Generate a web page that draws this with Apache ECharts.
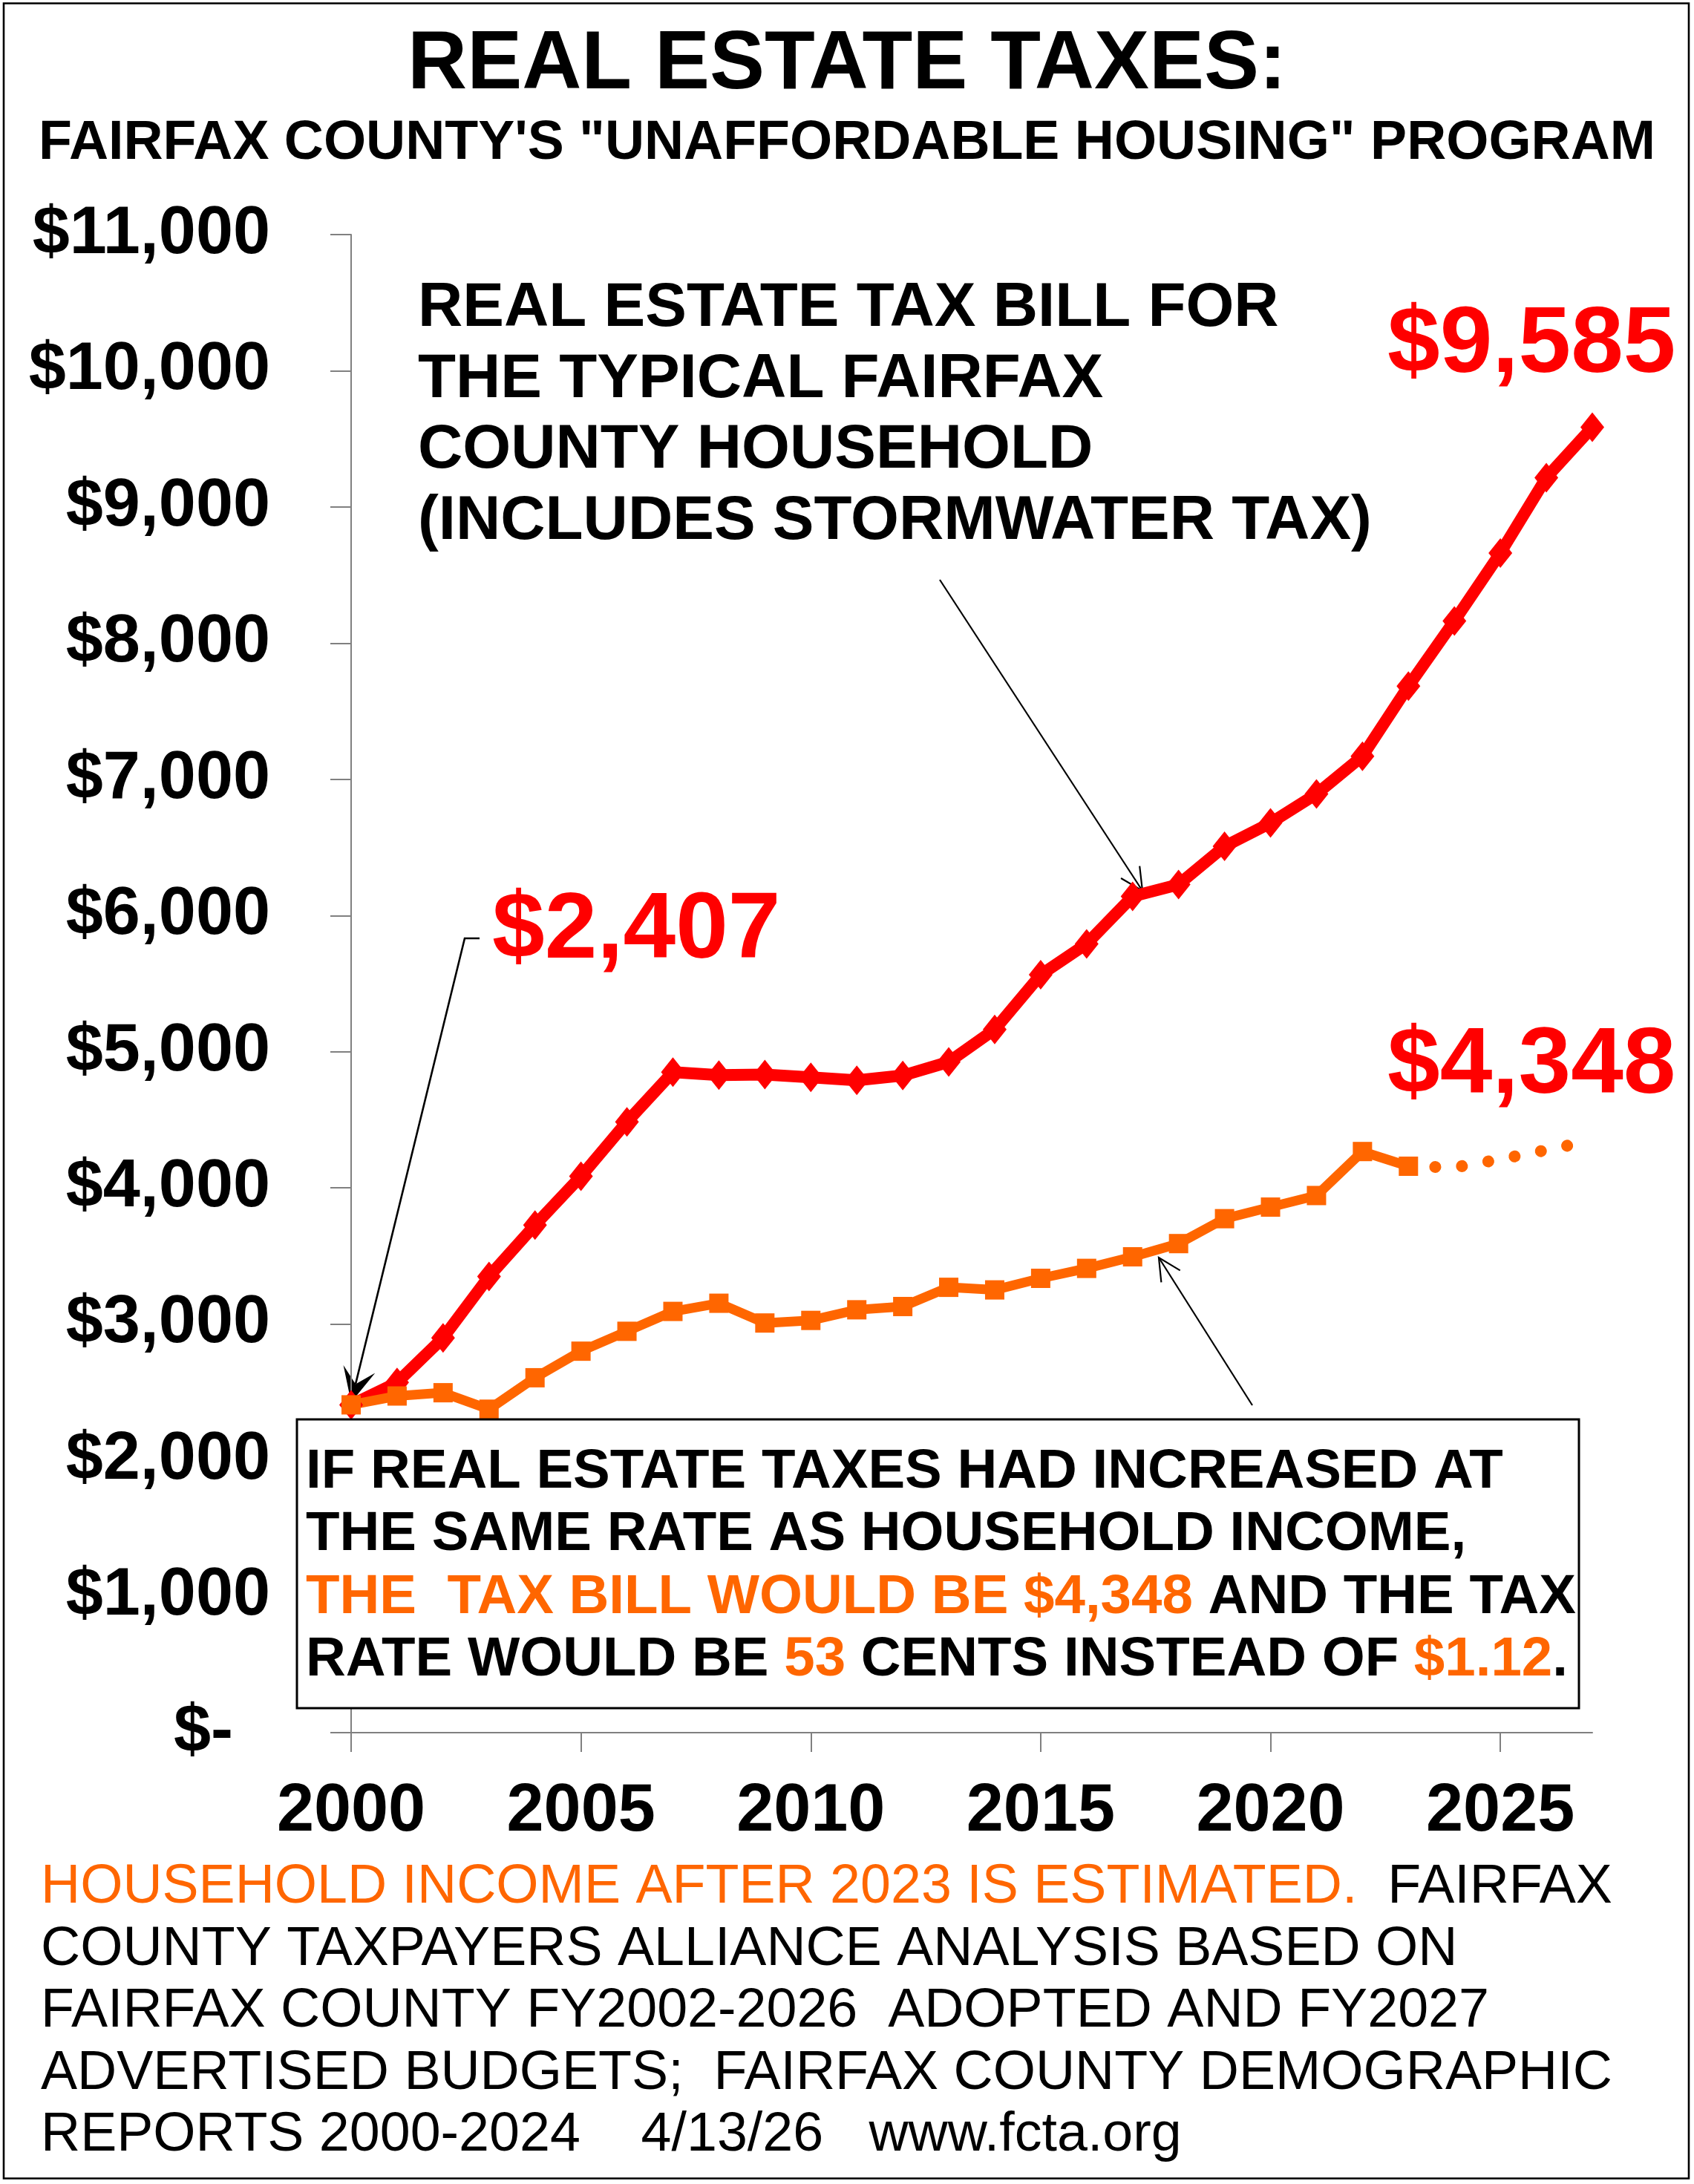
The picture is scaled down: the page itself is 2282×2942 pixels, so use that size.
<!DOCTYPE html>
<html>
<head>
<meta charset="utf-8">
<script src="https://cdn.jsdelivr.net/npm/echarts@6/dist/echarts.min.js"></script>
<style>
html, body { margin: 0; padding: 0; background: #fff; }
#main { width: 2282px; height: 2942px; }
</style>
</head>
<body>
<div id="main"></div>
<script>
// data
var years = [2000, 2001, 2002, 2003, 2004, 2005, 2006, 2007, 2008, 2009, 2010, 2011, 2012, 2013,
             2014, 2015, 2016, 2017, 2018, 2019, 2020, 2021, 2022, 2023, 2024, 2025, 2026, 2027];
var taxBill = [2407, 2571, 2899, 3350, 3727, 4085, 4485, 4850, 4828, 4832, 4812, 4790, 4825, 4925,
               5163, 5565, 5792, 6140, 6228, 6508, 6680, 6893, 7170, 7684, 8163, 8662, 9215, 9585];
var incomeYears = [2000, 2001, 2002, 2003, 2004, 2005, 2006, 2007, 2008, 2009, 2010, 2011,
                   2012, 2013, 2014, 2015, 2016, 2017, 2018, 2019, 2020, 2021, 2022, 2023];
var incomeTax = [2407, 2472, 2496, 2375, 2606, 2801, 2947, 3093, 3153, 3008, 3027, 3105,
                 3129, 3270, 3251, 3336, 3409, 3494, 3591, 3774, 3859, 3944, 4267, 4159];
var estYears = [2023, 2024, 2025, 2026, 2027];
var estTax = [4159, 4150, 4210, 4278, 4348];
var xTicks = [2000, 2005, 2010, 2015, 2020, 2025];

var RED = '#ff0000';
var ORANGE = '#ff6600';
var FONT = '"Liberation Sans", Arial, sans-serif';

function pairs(xs, ys) {
    return xs.map(function (x, i) { return [x, ys[i]]; });
}

function money(v) {
    if (v === 0) return '$-  ';
    return '$' + v.toString().replace(/\B(?=(\d{3})+(?!\d))/g, ',');
}

// arrow heads for the leader lines
function headPoints(tip, from, len, half) {
    var dx = tip[0] - from[0], dy = tip[1] - from[1];
    var d = Math.sqrt(dx * dx + dy * dy);
    var ux = dx / d, uy = dy / d;
    var bx = tip[0] - ux * len, by = tip[1] - uy * len;
    return {
        w1: [bx - uy * half, by + ux * half],
        w2: [bx + uy * half, by - ux * half],
        notch: [tip[0] - ux * len * 0.55, tip[1] - uy * len * 0.55]
    };
}
function openArrow(from, tip) {
    var h = headPoints(tip, from, 30, 15);
    return [
        { type: 'line', shape: { x1: from[0], y1: from[1], x2: tip[0], y2: tip[1] },
          style: { stroke: '#000', lineWidth: 2.2 } },
        { type: 'polyline', shape: { points: [h.w1, tip, h.w2] },
          style: { stroke: '#000', lineWidth: 2.2, fill: null } }
    ];
}

function txt(x, y, text, size, weight, color, align) {
    return {
        type: 'text', x: x, y: y,
        style: {
            text: text, fill: color || '#000',
            font: (weight || 'bold') + ' ' + size + 'px ' + FONT,
            textAlign: align || 'left', textVerticalAlign: 'middle'
        }
    };
}
function richTxt(x, y, text, size, weight) {
    var base = { fontSize: size, fontWeight: weight, fontFamily: FONT };
    return {
        type: 'text', x: x, y: y,
        style: {
            text: text, textAlign: 'left', textVerticalAlign: 'middle',
            font: weight + ' ' + size + 'px ' + FONT,
            rich: {
                k: Object.assign({ fill: '#000' }, base),
                o: Object.assign({ fill: ORANGE }, base)
            }
        }
    };
}

var graphics = [];
graphics.push({ type: 'rect', shape: { x: 5, y: 4.5, width: 2270, height: 2930 },
    style: { fill: null, stroke: '#000', lineWidth: 2.6 }, z: 100 });

graphics.push(txt(1141, 88, 'REAL ESTATE TAXES:', 111, 'bold', '#000', 'center'));
graphics.push(txt(1141, 194, 'FAIRFAX COUNTY\'S "UNAFFORDABLE HOUSING" PROGRAM', 73.5, 'bold', '#000', 'center'));

// series description
var desc = ['REAL ESTATE TAX BILL FOR', 'THE TYPICAL FAIRFAX', 'COUNTY HOUSEHOLD', '(INCLUDES STORMWATER TAX)'];
desc.forEach(function (s, i) {
    graphics.push(txt(563, 416 + i * 95.5, s, 83.5));
});

// value callouts
graphics.push(txt(1869, 466, '$9,585', 127, 'bold', RED));
graphics.push(txt(1869, 1437, '$4,348', 127, 'bold', RED));
graphics.push(txt(663, 1255, '$2,407', 127, 'bold', RED));

// leader to the first point
var l0 = [646, 1264], l1 = [626, 1264], tip0 = [473, 1889];
var h0 = headPoints(tip0, l1, 46, 22);
graphics.push({ type: 'polyline', shape: { points: [l0, l1, h0.notch] },
    style: { stroke: '#000', lineWidth: 2.6, fill: null } });
graphics.push({ type: 'polygon', shape: { points: [tip0, h0.w1, h0.notch, h0.w2] },
    style: { fill: '#000' } });

openArrow([1266, 781], [1539, 1200]).forEach(function (g) { graphics.push(g); });
openArrow([1687, 1893], [1561, 1694]).forEach(function (g) { graphics.push(g); });

// explanation box
graphics.push({ type: 'rect', shape: { x: 400, y: 1912, width: 1727, height: 389 },
    style: { fill: '#fff', stroke: '#000', lineWidth: 3 }, z: 50 });
var boxLines = [
    '{k|IF REAL ESTATE TAXES HAD INCREASED AT}',
    '{k|THE SAME RATE AS HOUSEHOLD INCOME,}',
    '{o|THE  TAX BILL WOULD BE $4,348}{k| AND THE TAX}',
    '{k|RATE WOULD BE }{o|53}{k| CENTS INSTEAD OF }{o|$1.12}{k|.}'
];
boxLines.forEach(function (s, i) {
    var g = richTxt(412, 1983 + i * 84.5, s, 74.5, 'bold');
    g.z = 51;
    graphics.push(g);
});

// source notes
var notes = [
    '{o|HOUSEHOLD INCOME AFTER 2023 IS ESTIMATED.}{k|  FAIRFAX}',
    '{k|COUNTY TAXPAYERS ALLIANCE ANALYSIS BASED ON}',
    '{k|FAIRFAX COUNTY FY2002-2026  ADOPTED AND FY2027}',
    '{k|ADVERTISED BUDGETS;  FAIRFAX COUNTY DEMOGRAPHIC}',
    '{k|REPORTS 2000-2024    4/13/26   www.fcta.org}'
];
notes.forEach(function (s, i) {
    graphics.push(richTxt(55, 2543 + i * 83.5, s, 73.6, 'normal'));
});

var myChart = echarts.init(document.getElementById('main'), null, { renderer: 'canvas' });
var option = {
    backgroundColor: '#fff',
    animation: false,
    grid: { left: 473, right: 137, top: 316, bottom: 608 },
    xAxis: {
        type: 'value', min: 2000, max: 2027,
        splitLine: { show: false },
        axisLine: { lineStyle: { color: '#808080', width: 2 } },
        axisTick: { customValues: xTicks, length: 26, lineStyle: { color: '#808080', width: 2 } },
        axisLabel: {
            customValues: xTicks, margin: 62,
            formatter: function (v) { return String(v); },
            color: '#000', fontFamily: FONT, fontWeight: 'bold', fontSize: 90
        }
    },
    yAxis: {
        type: 'value', min: 0, max: 11000, interval: 1000,
        splitLine: { show: false },
        axisLine: { show: true, lineStyle: { color: '#808080', width: 2 } },
        axisTick: { show: true, length: 28, lineStyle: { color: '#808080', width: 2 } },
        axisLabel: {
            margin: 109, formatter: money,
            color: '#000', fontFamily: FONT, fontWeight: 'bold', fontSize: 90
        }
    },
    series: [
        {
            name: 'Tax bill', type: 'line', data: pairs(years, taxBill),
            symbol: 'diamond', symbolSize: [32, 40],
            lineStyle: { color: RED, width: 16 },
            itemStyle: { color: RED }
        },
        {
            name: 'At income growth', type: 'line', data: pairs(incomeYears, incomeTax),
            symbol: 'rect', symbolSize: 26,
            lineStyle: { color: ORANGE, width: 13 },
            itemStyle: { color: ORANGE }
        },
        {
            name: 'Estimated', type: 'line', data: pairs(estYears, estTax),
            symbol: 'none',
            lineStyle: { color: ORANGE, width: 16, type: [0.1, 36], cap: 'round' }
        }
    ],
    graphic: graphics
};
myChart.setOption(option);
</script>
</body>
</html>
